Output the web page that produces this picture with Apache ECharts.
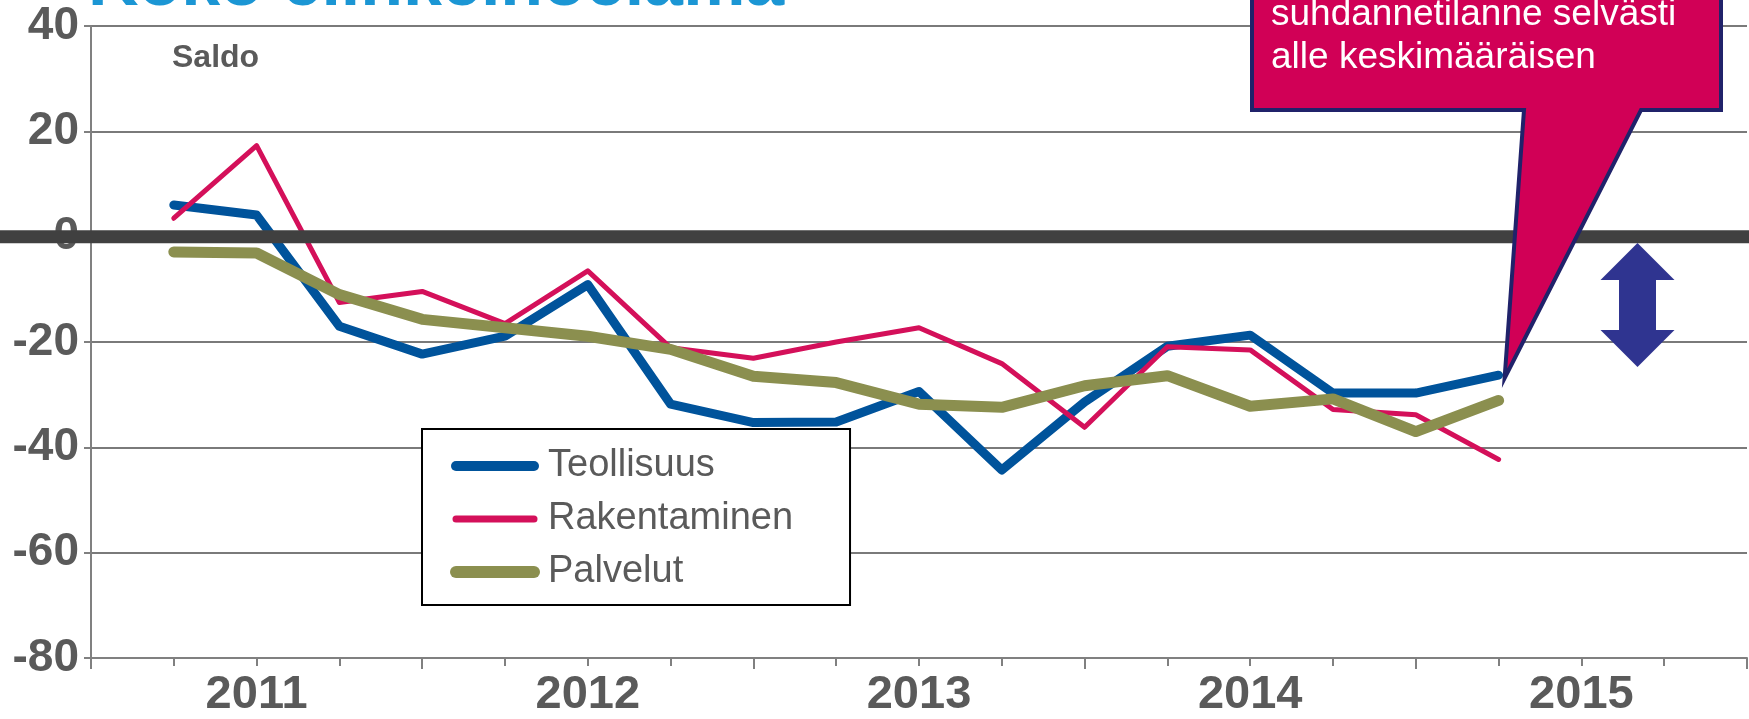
<!DOCTYPE html>
<html>
<head>
<meta charset="utf-8">
<title>Koko elinkeinoelämä</title>
<script src="https://cdn.jsdelivr.net/npm/echarts@6/dist/echarts.min.js"></script>
<style>
	html, body { margin: 0; padding: 0; background: #fff; }
	#main { width: 1749px; height: 719px; }
</style>
</head>
<body>
<div id="main"></div>
<script>
// quarters on the x axis (ticks), years are written in the middle of each year
var quarters = ['2010Q4',
	'2011Q1', '2011Q2', '2011Q3', '2011Q4',
	'2012Q1', '2012Q2', '2012Q3', '2012Q4',
	'2013Q1', '2013Q2', '2013Q3', '2013Q4',
	'2014Q1', '2014Q2', '2014Q3', '2014Q4',
	'2015Q1', '2015Q2', '2015Q3', '2015Q4'];
var yearLabels = ['2011', '2012', '2013', '2014', '2015'];

// saldo values, 2011Q1 - 2015Q1
var teollisuus = [6.0, 4.1, -17.0, -22.3, -18.9, -9.1, -31.8, -35.3, -35.2, -29.4, -44.3, -31.4, -20.8, -18.7, -29.7, -29.7, -26.3];
var rakentaminen = [3.5, 17.3, -12.5, -10.4, -16.5, -6.5, -21.1, -23.1, -20.0, -17.3, -24.1, -36.2, -20.9, -21.5, -32.8, -33.8, -42.3];
var palvelut = [-2.9, -3.1, -11.0, -15.7, -17.3, -18.9, -21.4, -26.5, -27.7, -31.8, -32.4, -28.3, -26.4, -32.2, -30.8, -37.0, -31.1];

var seriesNames = ['Teollisuus', 'Rakentaminen', 'Palvelut'];
var titleText = 'Koko elinkeinoelämä';
var unitText = 'Saldo';
var calloutLines = ['suhdannetilanne selvästi', 'alle keskimääräisen'];

var FONT = '"Liberation Sans", Arial, sans-serif';
var GREY = '#5a5a5a';
var AXIS = '#808080';

var saldoChart = {
	chart : null,

	init : function() {
		saldoChart.chart = echarts.init(document.getElementById('main'), null, { renderer: 'canvas' });
		saldoChart.chart.setOption(saldoChart.buildOption());
		saldoChart.addGraphics();
	},

	// the first quarter has no value
	withGap : function(arr) {
		return [null].concat(arr);
	},

	lineSerie : function(name, data, color, width) {
		return {
			name: name,
			type: 'line',
			data: saldoChart.withGap(data),
			symbol: 'none',
			lineStyle: { color: color, width: width, cap: 'round', join: 'round' },
			itemStyle: { color: color }
		};
	},

	buildOption : function() {
		return {
			animation: false,
			backgroundColor: '#fff',
			grid: { left: 91, right: 2, top: 26, bottom: 57, containLabel: false },
			xAxis: [{
				type: 'category',
				data: quarters,
				boundaryGap: false,
				axisLine: { onZero: false, lineStyle: { color: AXIS, width: 2 } },
				axisTick: { show: true, interval: 0, length: 8, lineStyle: { color: AXIS, width: 2 } },
				axisLabel: {
					interval: function(i) { return i % 4 === 2; },
					formatter: function(v, i) { return i % 4 === 2 ? yearLabels[(i - 2) / 4] : ''; },
					fontSize: 47, fontWeight: 'bold', fontFamily: FONT, color: GREY, margin: 14
				},
				splitLine: { show: false }
			}, {
				// longer ticks at year boundaries
				type: 'category',
				data: quarters,
				boundaryGap: false,
				position: 'bottom',
				axisLine: { show: false, onZero: false },
				axisTick: { interval: function(i) { return i % 4 === 0; }, length: 11, lineStyle: { color: AXIS, width: 2 } },
				axisLabel: { show: false },
				splitLine: { show: false }
			}],
			yAxis: {
				type: 'value',
				min: -80,
				max: 40,
				interval: 20,
				axisLine: { show: true, lineStyle: { color: AXIS, width: 2 } },
				axisTick: { show: true, length: 7, lineStyle: { color: AXIS, width: 2 } },
				axisLabel: { fontSize: 46, fontWeight: 'bold', fontFamily: FONT, color: GREY, margin: 12 },
				splitLine: { lineStyle: { color: '#7a7a7a', width: 2 } }
			},
			legend: {
				orient: 'vertical',
				left: 422,
				top: 429,
				padding: [18, 57, 14, 28],
				itemWidth: 78,
				itemHeight: 14,
				itemGap: 15,
				backgroundColor: '#fff',
				borderColor: '#000',
				borderWidth: 2,
				itemStyle: { opacity: 0 },
				textStyle: { fontSize: 38, fontFamily: FONT, color: GREY, lineHeight: 38, padding: [0, 0, 0, 9] },
				data: [
					{ name: seriesNames[0], lineStyle: { width: 10 } },
					{ name: seriesNames[1], lineStyle: { width: 7 } },
					{ name: seriesNames[2], lineStyle: { width: 12 } }
				]
			},
			series: [
				saldoChart.lineSerie(seriesNames[0], teollisuus, '#00539b', 9),
				saldoChart.lineSerie(seriesNames[1], rakentaminen, '#d4105a', 5),
				saldoChart.lineSerie(seriesNames[2], palvelut, '#8b8f4f', 11)
			]
		};
	},

	addGraphics : function() {
		var c = saldoChart.chart;
		var zeroY = c.convertToPixel({ yAxisIndex: 0 }, 0);
		// callout points to the latest Teollisuus value
		var last = teollisuus.length;
		var tip = c.convertToPixel({ xAxisIndex: 0, yAxisIndex: 0 }, [last, teollisuus[last - 1]]);
		var tx = tip[0] + 6, ty = tip[1] + 3;

		var ax = 1637.5, aTop = 243, aBot = 367;

		c.setOption({
			graphic: [
				{
					type: 'text', x: 88, y: -14, z: 100,
					style: { text: titleText, font: 'bold 70px ' + FONT, fill: '#1b96d4', verticalAlign: 'middle' }
				},
				{
					type: 'text', x: 172, y: 58, z: 100,
					style: { text: unitText, font: 'bold 32px ' + FONT, fill: GREY, verticalAlign: 'middle' }
				},
				{
					// thick zero line across the whole picture
					type: 'rect', z: 100,
					shape: { x: 0, y: zeroY - 6.5, width: 1749, height: 13 },
					style: { fill: '#404040' }
				},
				{
					// double arrow
					type: 'polygon', z: 100,
					shape: { points: [
						[ax, aTop], [ax + 37, aTop + 37], [ax + 18.5, aTop + 37], [ax + 18.5, aBot - 37],
						[ax + 37, aBot - 37], [ax, aBot], [ax - 37, aBot - 37], [ax - 18.5, aBot - 37],
						[ax - 18.5, aTop + 37], [ax - 37, aTop + 37]
					] },
					style: { fill: '#2f3490' }
				},
				{
					type: 'polygon', z: 110,
					shape: { points: [
						[1252, -30], [1721, -30], [1721, 110], [1641, 110], [tx, ty], [1524, 110], [1252, 110]
					] },
					style: { fill: '#d10056', stroke: '#20226a', lineWidth: 4, lineJoin: 'miter' }
				},
				{
					type: 'text', x: 1271, y: -6.5, z: 120,
					style: { text: calloutLines.join('\n'), font: '37px ' + FONT, fill: '#fff', lineHeight: 43, verticalAlign: 'top' }
				}
			]
		});
	}
};

saldoChart.init();
</script>
</body>
</html>
